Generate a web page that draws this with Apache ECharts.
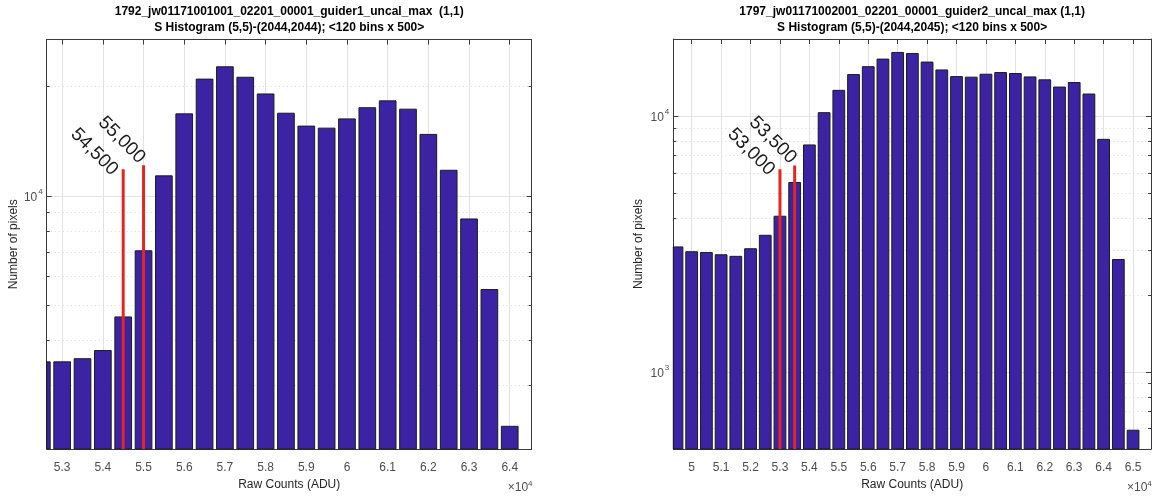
<!DOCTYPE html>
<html><head><meta charset="utf-8">
<script src="https://cdn.jsdelivr.net/npm/echarts@6/dist/echarts.min.js"></script>
<style>html,body{margin:0;padding:0;background:#fff}#c{width:1154px;height:496px}</style>
</head><body><div id="c"></div>
<script>
// ---------- data ----------
const titleL = ['1792_jw01171001001_02201_00001_guider1_uncal_max  (1,1)', 'S Histogram (5,5)-(2044,2044); <120 bins x 500>'];
const titleR = ['1797_jw01171002001_02201_00001_guider2_uncal_max (1,1)', 'S Histogram (5,5)-(2044,2045); <120 bins x 500>'];
const xName = 'Raw Counts (ADU)';
const yName = 'Number of pixels';

const binsL = [52500, 53000, 53500, 54000, 54500, 55000, 55500, 56000, 56500, 57000, 57500, 58000,
               58500, 59000, 59500, 60000, 60500, 61000, 61500, 62000, 62500, 63000, 63500, 64000];
const countsL = [3480, 3480, 3550, 3740, 4630, 7050, 11350, 16830, 20990, 22700, 21240, 19100,
                 16900, 15570, 15370, 16300, 17500, 18280, 17340, 14770, 11760, 8630, 5510, 2310];

const binsR = [49500, 50000, 50500, 51000, 51500, 52000, 52500, 53000, 53500, 54000, 54500, 55000,
               55500, 56000, 56500, 57000, 57500, 58000, 58500, 59000, 59500, 60000, 60500, 61000,
               61500, 62000, 62500, 63000, 63500, 64000, 64500, 65000];
const countsR = [3080, 2950, 2930, 2870, 2830, 3030, 3420, 4060, 5500, 7710, 10310, 12600,
                 14520, 15590, 16690, 17720, 17560, 16250, 15140, 14260, 14190, 14570, 14790, 14660,
                 14220, 13850, 12980, 13520, 12190, 8110, 2750, 592];
const binWidth = 500;

const markersL = [54500, 55000];
const markerTopsL = [11840, 12140];
const markerLabelsL = ['54,500', '55,000'];
const markersR = [53000, 53500];
const markerTopsR = [6200, 6410];
const markerLabelsR = ['53,000', '53,500'];

const xTicksL = [53000, 54000, 55000, 56000, 57000, 58000, 59000, 60000, 61000, 62000, 63000, 64000];
const xTicksR = [50000, 51000, 52000, 53000, 54000, 55000, 56000, 57000, 58000, 59000, 60000, 61000, 62000, 63000, 64000, 65000];
const yTicksL = [10000];
const yTicksR = [1000, 10000];
const yMinorL = [3000, 4000, 5000, 6000, 7000, 8000, 9000, 20000];
const yMinorR = [600, 700, 800, 900, 2000, 3000, 4000, 5000, 6000, 7000, 8000, 9000];
const xRangeL = [52620, 64540];
const xRangeR = [49375, 65610];
const yRangeL = [2000, 27000];
const yRangeR = [500, 20000];
const xScaleLabel = '×10{s|4}';

// ---------- styles ----------
const FONT = '"Liberation Sans", Arial, Helvetica, sans-serif';
const BAR = '#3b23a3';
const RED = '#e52620';
const AXIS = '#3a3a3a';
const GRIDC = '#e2e2e2';
const TICKC = '#4d4d4d';
const barFracL = 0.82, barFracR = 0.80;
const labelShift = [[-15, 10], [-8, 2]];

const grids = [
  {left: 46.7, top: 39.5, width: 485, height: 414},
  {left: 673.3, top: 39, width: 477.7, height: 415.3}
];

function supFmt(v) {
  return '{b|10}{s|' + Math.round(Math.log10(v)) + '}';
}
const supRich = {
  b: {fontSize: 12, color: TICKC, fontFamily: FONT, lineHeight: 16, verticalAlign: 'bottom'},
  s: {fontSize: 8, color: TICKC, fontFamily: FONT, lineHeight: 16, verticalAlign: 'top', padding: [0, 0, 0, 1]}
};

function xAxesFor(gi, range, ticks) {
  return [
    {type: 'value', gridIndex: gi, min: range[0], max: range[1], position: 'bottom',
     name: xName, nameLocation: 'middle', nameGap: 30,
     nameTextStyle: {fontFamily: FONT, fontSize: 12, color: '#262626'},
     axisLine: {show: true, lineStyle: {color: AXIS, width: 1}},
     axisTick: {show: true, inside: true, length: 5, customValues: ticks, lineStyle: {color: AXIS}},
     axisLabel: {customValues: ticks, formatter: v => String(+(v / 1e4).toFixed(1)), color: TICKC, fontFamily: FONT, fontSize: 12, margin: 13},
     splitLine: {show: true, lineStyle: {color: GRIDC, width: 1}}},
    {type: 'value', gridIndex: gi, min: range[0], max: range[1], position: 'top',
     axisLine: {show: true, lineStyle: {color: AXIS, width: 1}},
     axisTick: {show: true, inside: true, length: 5, customValues: ticks, lineStyle: {color: AXIS}},
     axisLabel: {show: false}, splitLine: {show: false}}
  ];
}
function yAxesFor(gi, range, ticks, minor, nameGap) {
  return [
    {type: 'log', logBase: 10, gridIndex: gi, min: range[0], max: range[1], position: 'left',
     name: yName, nameLocation: 'middle', nameGap: nameGap,
     nameTextStyle: {fontFamily: FONT, fontSize: 12, color: '#262626'},
     axisLine: {show: true, lineStyle: {color: AXIS, width: 1}},
     axisTick: {show: true, inside: true, length: 5, customValues: ticks, lineStyle: {color: AXIS}},
     axisLabel: {customValues: ticks, formatter: supFmt, rich: supRich, margin: 4},
     splitLine: {show: true, lineStyle: {color: GRIDC, width: 1}}},
    {type: 'log', logBase: 10, gridIndex: gi, min: range[0], max: range[1], position: 'right',
     axisLine: {show: true, lineStyle: {color: AXIS, width: 1}},
     axisTick: {show: true, inside: true, length: 5, customValues: ticks, lineStyle: {color: AXIS}},
     axisLabel: {show: false}, splitLine: {show: false}},
    {type: 'log', logBase: 10, gridIndex: gi, min: range[0], max: range[1], position: 'left',
     axisLine: {show: false},
     axisTick: {show: true, inside: true, length: 3, customValues: minor, lineStyle: {color: AXIS}},
     axisLabel: {show: false},
     splitLine: {show: true, lineStyle: {color: '#d6d6d6', width: 1, type: [1, 3]}}},
    {type: 'log', logBase: 10, gridIndex: gi, min: range[0], max: range[1], position: 'right',
     axisLine: {show: false},
     axisTick: {show: true, inside: true, length: 3, customValues: minor, lineStyle: {color: AXIS}},
     axisLabel: {show: false}, splitLine: {show: false}}
  ];
}

function histSeries(xi, yi, bins, counts, frac, yBase) {
  const half = binWidth * frac / 2;
  return {type: 'custom', xAxisIndex: xi, yAxisIndex: yi, z: 2, silent: true, animation: false,
    encode: {x: 0, y: 1},
    data: bins.map((b, i) => [b, counts[i]]),
    renderItem: function (params, api) {
      const x = api.value(0), y = api.value(1);
      const p0 = api.coord([x - half, y]);
      const p1 = api.coord([x + half, yBase]);
      const cs = params.coordSys;
      const shape = echarts.graphic.clipRectByRect(
        {x: p0[0], y: p0[1], width: p1[0] - p0[0], height: p1[1] - p0[1]},
        {x: cs.x, y: cs.y, width: cs.width, height: cs.height});
      if (!shape) return null;
      return {type: 'rect', shape: shape,
        style: {fill: BAR, stroke: '#1c1c1c', lineWidth: 1}};
    }};
}
function redSeries(xi, yi, xs, tops, ymin) {
  return xs.map((x, i) => ({type: 'line', xAxisIndex: xi, yAxisIndex: yi, symbol: 'none',
    data: [[x, ymin], [x, tops[i]]], lineStyle: {color: RED, width: 3}, z: 5, animation: false, silent: true}));
}

const option = {
  animation: false,
  backgroundColor: '#fff',
  grid: grids,
  xAxis: [...xAxesFor(0, xRangeL, xTicksL), ...xAxesFor(1, xRangeR, xTicksR)],
  yAxis: [...yAxesFor(0, yRangeL, yTicksL, yMinorL, 25), ...yAxesFor(1, yRangeR, yTicksR, yMinorR, 29)],
  series: [
    histSeries(0, 0, binsL, countsL, barFracL, yRangeL[0]),
    histSeries(2, 4, binsR, countsR, barFracR, yRangeR[0]),
    ...redSeries(0, 0, markersL, markerTopsL, yRangeL[0]),
    ...redSeries(2, 4, markersR, markerTopsR, yRangeR[0])
  ]
};

const chart = echarts.init(document.getElementById('c'), null, {renderer: 'canvas'});
chart.setOption(option);

// titles, x-scale factor and rotated marker labels
const gfx = [];
function titleGfx(g, lines) {
  const cx = g.left + g.width / 2;
  lines.forEach((t, i) => gfx.push({type: 'text', x: cx, y: 12 + i * 16, style: {
    text: t, textAlign: 'center', textVerticalAlign: 'middle', fill: '#000',
    font: 'bold 12px ' + FONT}}));
}
titleGfx(grids[0], titleL);
titleGfx(grids[1], titleR);
function scaleGfx(g) {
  gfx.push({type: 'text', x: g.left + g.width - 24, y: 488, style: {
    text: xScaleLabel, textVerticalAlign: 'middle', fill: TICKC, font: '12px ' + FONT,
    rich: {s: {fontSize: 8, fontFamily: FONT, verticalAlign: 'top', lineHeight: 16, fill: TICKC}}}});
}
scaleGfx(grids[0]);
scaleGfx(grids[1]);
function markerGfx(gi, xs, tops, labels) {
  xs.forEach((x, i) => {
    const p = chart.convertToPixel({gridIndex: gi}, [x, tops[i]]);
    gfx.push({type: 'text', x: p[0] + labelShift[i][0], y: p[1] + labelShift[i][1], rotation: -Math.PI / 4, style: {
      text: labels[i], textAlign: 'right', textVerticalAlign: 'bottom', fill: '#1a1a1a',
      font: '19px ' + FONT}});
  });
}
markerGfx(0, markersL, markerTopsL, markerLabelsL);
markerGfx(1, markersR, markerTopsR, markerLabelsR);
chart.setOption({graphic: gfx});
</script></body></html>
